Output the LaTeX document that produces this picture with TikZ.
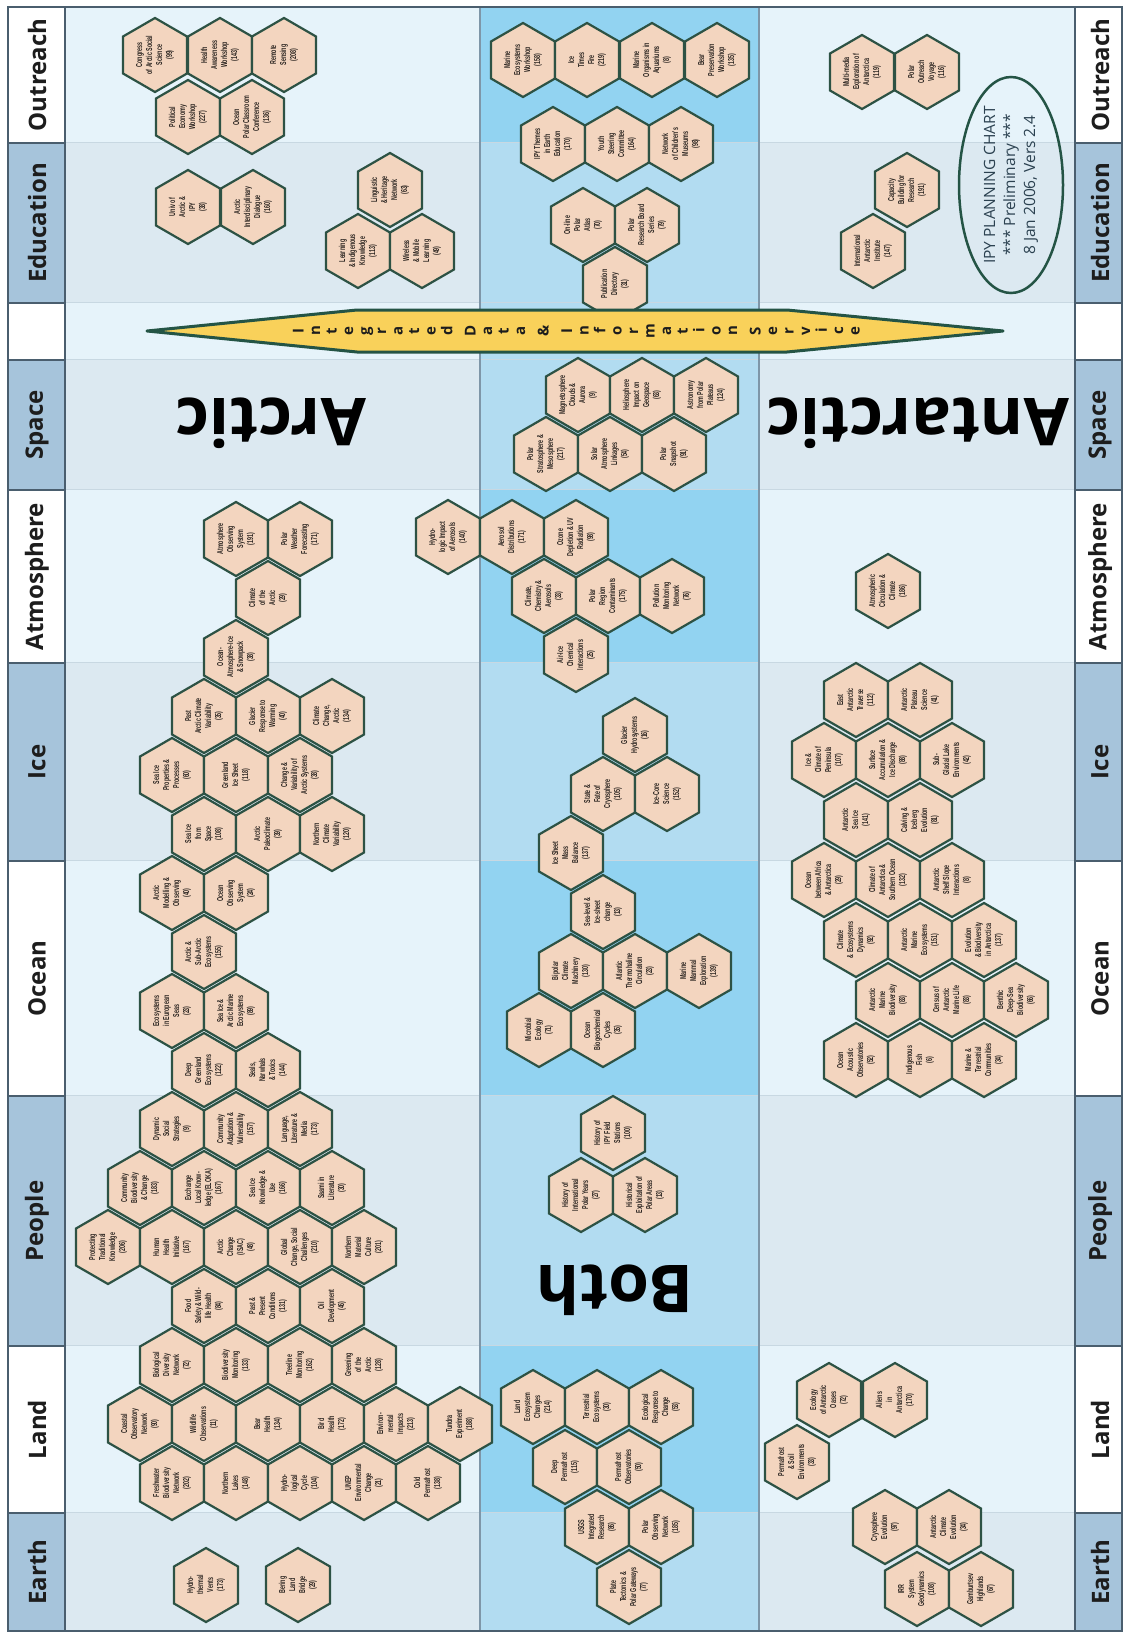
\documentclass[tikz,border=0pt]{standalone}
\usepackage{fontspec}
\usepackage{graphicx}
\setmainfont{Liberation Sans}
\newfontfamily\labfont{Open Sans}
\newfontfamily\hexfont{Liberation Sans}[FakeStretch=0.62]
\definecolor{hexfill}{HTML}{F3D5BF}
\definecolor{hexdraw}{HTML}{2D5244}
\definecolor{hextext}{HTML}{2A2420}
\definecolor{bgA}{HTML}{E6F3FA}
\definecolor{bgB}{HTML}{DCE9F1}
\definecolor{bothA}{HTML}{92D3F1}
\definecolor{bothB}{HTML}{B2DCF1}
\definecolor{labblue}{HTML}{A6C4DB}
\definecolor{labtext}{HTML}{1D1D1D}
\definecolor{frame}{HTML}{4A5E6E}
\definecolor{sep}{HTML}{C8D8E2}
\definecolor{colsep}{HTML}{7E96A8}
\definecolor{idis}{HTML}{F9D15A}
\definecolor{idisedge}{HTML}{245445}
\definecolor{elltext}{HTML}{2B4150}
\newcommand\hx[4]{%
  \path[hexline] (#2,#3-37) -- (#2+32,#3-18.5) -- (#2+32,#3+18.5) -- (#2,#3+37) -- (#2-32,#3+18.5) -- (#2-32,#3-18.5) -- cycle;
  \node[hext] (#1) at (#2,#3) {#4};}
\newcommand\rl[1]{\makebox[16.5pt]{\rotatebox[origin=c]{90}{\vphantom{Ag}#1}}}
\newcommand\rg{\hspace{7pt}}
\tikzset{
  hexline/.style={draw=hexdraw, fill=hexfill, line width=2.2pt, line join=miter},
  hext/.style={rotate=90, align=center, inner sep=0pt, text=hextext, font=\hexfont\bfseries\fontsize{8.6}{10}\selectfont},
  labtxt/.style={rotate=90, font=\labfont\bfseries\fontsize{24}{26}\selectfont, text=labtext, inner sep=0pt},
  bigtxt/.style={rotate=180, font=\labfont\bfseries\fontsize{66}{70}\selectfont, text=black, inner sep=0pt},
  framed/.style={draw=frame, line width=1.5pt},
}
\begin{document}
\begin{tikzpicture}[x=1pt, y=-1pt]
\useasboundingbox (0,0) rectangle (1123,1637);
\fill[white] (0,0) rectangle (1123,1637);
% rows
\foreach \ya/\yb/\lab/\cl/\cc/\cb [count=\i] in {
  7/143/Outreach/white/bgA/bothA,
  143/303/Education/labblue/bgB/bothB,
  303/360/{}/white/bgA/bothB,
  360/490/Space/labblue/bgB/bothB,
  490/663/Atmosphere/white/bgA/bothA,
  663/861/Ice/labblue/bgB/bothB,
  861/1096/Ocean/white/bgA/bothA,
  1096/1346/People/labblue/bgB/bothB,
  1346/1513/Land/white/bgA/bothA,
  1513/1631/Earth/labblue/bgB/bothB}{
  \fill[\cc] (65,\ya) rectangle (1075,\yb);
  \fill[\cb] (480,\ya) rectangle (759,\yb);
  \draw[sep, line width=1.2pt] (65,\yb) -- (1075,\yb);
  \path[framed, fill=\cl] (8,\ya) rectangle (65,\yb);
  \path[framed, fill=\cl] (1075,\ya) rectangle (1122,\yb);
  \node[labtxt] (L\i) at (37,{(\ya+\yb)/2}) {\lab};
  \node[labtxt] (R\i) at (1100,{(\ya+\yb)/2}) {\lab};
}
\draw[colsep, line width=1.2pt] (480,7) -- (480,1631);
\draw[colsep, line width=1.2pt] (759,7) -- (759,1631);
\draw[framed] (8,7) rectangle (1122,1631);
% ---------------- Arctic ----------------
\hx{h1}{155}{55}{Congress\\of Arctic Social\\Science\\(99)}
\hx{h2}{220}{55}{Health\\Awareness\\Workshop\\(143)}
\hx{h3}{284}{55}{Remote\\Sensing\\(208)}
\hx{h4}{188}{117}{Political\\Economy\\Workshop\\(227)}
\hx{h5}{252}{117}{Ocean\\Polar Classroom\\Conference\\(136)}
\hx{h6}{188}{207}{Univ of\\Arctic \&\\IPY\\(38)}
\hx{h7}{253}{207}{Arctic\\Interdisciplinary\\Dialogue\\(160)}
\hx{h8}{390}{190}{Linguistic\\\& Heritage\\Network\\(63)}
\hx{h9}{358}{251}{Learning\\\& Indigenous\\Knowledge\\(113)}
\hx{h10}{422}{251}{Wireless\\\& Mobile\\Learning\\(49)}
\hx{h11}{236}{539}{Atmosphere\\Observing\\System\\(191)}
\hx{h12}{300}{539}{Polar\\Weather\\Forecasting\\(171)}
\hx{h13}{268}{598}{Climate\\of the\\Arctic\\(29)}
\hx{h14}{236}{657}{Ocean-\\Atmosphere-Ice\\\& Snowpack\\(38)}
\hx{h15}{204}{716}{Past\\Arctic Climate\\Variability\\(35)}
\hx{h16}{268}{716}{Glacier\\Response to\\Warming\\(40)}
\hx{h17}{332}{716}{Climate\\Change,\\Arctic\\(134)}
\hx{h18}{172}{775}{Sea Ice\\Properties \&\\Processes\\(60)}
\hx{h19}{236}{775}{Greenland\\Ice Sheet\\(118)}
\hx{h20}{300}{775}{Change \&\\Variability of\\Arctic Systems\\(38)}
\hx{h21}{204}{834}{Sea Ice\\from\\Space\\(108)}
\hx{h22}{268}{834}{Arctic\\Paleoclimate\\(39)}
\hx{h23}{332}{834}{Northern\\Climate\\Variability\\(120)}
\hx{h24}{172}{893}{Arctic\\Modelling \&\\Observing\\(40)}
\hx{h25}{236}{893}{Ocean\\Observing\\System\\(24)}
\hx{h26}{204}{952}{Arctic \&\\Sub-Arctic\\Ecosystems\\(155)}
\hx{h27}{172}{1011}{Ecosystems\\in European\\Seas\\(23)}
\hx{h28}{236}{1011}{Sea Ice \&\\Arctic Marine\\Ecosystems\\(89)}
\hx{h29}{204}{1070}{Deep\\Greenland\\Ecosystems\\(122)}
\hx{h30}{268}{1070}{Seals,\\Narwhals\\\& Toxics\\(144)}
\hx{h31}{172}{1129}{Dynamic\\Social\\Strategies\\(9)}
\hx{h32}{236}{1129}{Community\\Adaptation \&\\Vulnerability\\(157)}
\hx{h33}{300}{1129}{Language,\\Literature \&\\Media\\(173)}
\hx{h34}{140}{1188}{Community\\Biodiversity\\\& Change\\(183)}
\hx{h35}{204}{1188}{Exchange\\Local Know-\\ledge (ELOKA)\\(167)}
\hx{h36}{268}{1188}{Sea Ice\\Knowledge \&\\Use\\(166)}
\hx{h37}{332}{1188}{Saami in\\Literature\\(30)}
\hx{h38}{108}{1247}{Protecting\\Traditional\\Knowledge\\(206)}
\hx{h39}{172}{1247}{Human\\Health\\Initiative\\(167)}
\hx{h40}{236}{1247}{Arctic\\Change\\(ISAC)\\(48)}
\hx{h41}{300}{1247}{Global\\Change, Social\\Challenges\\(210)}
\hx{h42}{364}{1247}{Northern\\Material\\Culture\\(201)}
\hx{h43}{204}{1306}{Food\\Safety \& Wild-\\life Health\\(84)}
\hx{h44}{268}{1306}{Past \&\\Present\\Conditions\\(131)}
\hx{h45}{332}{1306}{Oil\\Development\\(46)}
\hx{h46}{172}{1365}{Biological\\Diversity\\Network\\(72)}
\hx{h47}{236}{1365}{Biodiversity\\Monitoring\\(133)}
\hx{h48}{300}{1365}{Treeline\\Monitoring\\(162)}
\hx{h49}{364}{1365}{Greening\\of the\\Arctic\\(128)}
\hx{h50}{140}{1424}{Coastal\\Observatory\\Network\\(90)}
\hx{h51}{204}{1424}{Wildlife\\Observations\\(11)}
\hx{h52}{268}{1424}{Bear\\Health\\(134)}
\hx{h53}{332}{1424}{Bird\\Health\\(172)}
\hx{h54}{396}{1424}{Environ-\\mental\\Impacts\\(213)}
\hx{h55}{460}{1424}{Tundra\\Experiment\\(188)}
\hx{h56}{172}{1483}{Freshwater\\Biodiversity\\Network\\(202)}
\hx{h57}{236}{1483}{Northern\\Lakes\\(148)}
\hx{h58}{300}{1483}{Hydro-\\logical\\Cycle\\(104)}
\hx{h59}{364}{1483}{UNEP\\Environmental\\Change\\(21)}
\hx{h60}{428}{1483}{Cold\\Permafrost\\(138)}
\hx{h61}{206}{1585}{Hydro-\\thermal\\Vents\\(173)}
\hx{h62}{298}{1585}{Bering\\Land\\Bridge\\(29)}
% ---------------- Both ----------------
\hx{h63}{523}{60}{Marine\\Ecosystems\\Workshop\\(158)}
\hx{h64}{587}{60}{Ice\\Times\\Fire\\(219)}
\hx{h65}{652}{60}{Marine\\Organisms in\\Aquariums\\(8)}
\hx{h66}{717}{60}{Bear\\Preservation\\Workshop\\(135)}
\hx{h67}{553}{144}{IPY Themes\\in Earth\\Education\\(170)}
\hx{h68}{617}{144}{Youth\\Steering\\Committee\\(164)}
\hx{h69}{681}{144}{Network\\of Children's\\Museums\\(98)}
\hx{h70}{583}{225}{On-line\\Polar\\Atlas\\(70)}
\hx{h71}{647}{225}{Polar\\Research Board\\Series\\(79)}
\hx{h72}{615}{284}{Publication\\Directory\\(31)}
\hx{h73}{578}{395}{Magnetosphere\\Clouds \&\\Aurora\\(9)}
\hx{h74}{642}{395}{Heliosphere\\Impact on\\Geospace\\(63)}
\hx{h75}{706}{395}{Astronomy\\from Polar\\Plateaus\\(124)}
\hx{h76}{546}{454}{Polar\\Stratosphere \&\\Mesosphere\\(217)}
\hx{h77}{610}{454}{Solar\\Atmosphere\\Linkages\\(54)}
\hx{h78}{674}{454}{Polar\\Snapshot\\(91)}
\hx{h79}{448}{537}{Hydro-\\logic Impact\\of Aerosols\\(140)}
\hx{h80}{512}{537}{Aerosol\\Distributions\\(171)}
\hx{h81}{576}{537}{Ozone\\Depletion \& UV\\Radiation\\(98)}
\hx{h82}{544}{596}{Climate,\\Chemistry \&\\Aerosols\\(33)}
\hx{h83}{608}{596}{Polar\\Region\\Contaminants\\(175)}
\hx{h84}{672}{596}{Pollution\\Monitoring\\Network\\(76)}
\hx{h85}{576}{655}{Air-Ice\\Chemical\\Interactions\\(25)}
\hx{h86}{635}{735}{Glacier\\Hydrosystems\\(16)}
\hx{h87}{603}{794}{State \&\\Fate of\\Cryosphere\\(105)}
\hx{h88}{667}{794}{Ice-Core\\Science\\(152)}
\hx{h89}{571}{853}{Ice Sheet\\Mass\\Balance\\(137)}
\hx{h90}{603}{912}{Sea-level \&\\Ice-sheet\\change\\(13)}
\hx{h91}{571}{971}{Bipolar\\Climate\\Machinery\\(130)}
\hx{h92}{635}{971}{Atlantic\\Thermohaline\\Circulation\\(23)}
\hx{h93}{699}{971}{Marine\\Mammal\\Exploration\\(139)}
\hx{h94}{539}{1030}{Microbial\\Ecology\\(71)}
\hx{h95}{603}{1030}{Ocean\\Biogeochemical\\Cycles\\(35)}
\hx{h96}{613}{1133}{History of\\IPY Field\\Stations\\(100)}
\hx{h97}{581}{1195}{History of\\International\\Polar Years\\(27)}
\hx{h98}{645}{1195}{Historical\\Exploitation of\\Polar Areas\\(13)}
\hx{h99}{533}{1407}{Land\\Ecosystem\\Changes\\(214)}
\hx{h100}{597}{1407}{Terrestrial\\Ecosystems\\(30)}
\hx{h101}{661}{1407}{Ecological\\Response to\\Change\\(53)}
\hx{h102}{565}{1467}{Deep\\Permafrost\\(115)}
\hx{h103}{629}{1467}{Permafrost\\Observatories\\(50)}
\hx{h104}{597}{1527}{USGS\\Integrated\\Research\\(86)}
\hx{h105}{661}{1527}{Polar\\Observing\\Network\\(185)}
\hx{h106}{629}{1587}{Plate\\Tectonics \&\\Polar Gateways\\(77)}
% ---------------- Antarctic ----------------
\hx{h107}{862}{72}{Multi-media\\Exploration of\\Antarctica\\(119)}
\hx{h108}{927}{72}{Polar\\Outreach\\Voyage\\(116)}
\hx{h109}{907}{190}{Capacity\\Building for\\Research\\(191)}
\hx{h110}{873}{251}{International\\Antarctic\\Institute\\(147)}
\hx{h111}{888}{591}{Atmospheric\\Circulation \&\\Climate\\(186)}
\hx{h112}{856}{700}{East\\Antarctic\\Traverse\\(112)}
\hx{h113}{920}{700}{Antarctic\\Plateau\\Science\\(41)}
\hx{h114}{824}{760}{Ice \&\\Climate of\\Peninsula\\(107)}
\hx{h115}{888}{760}{Surface\\Accumulation \&\\Ice Discharge\\(88)}
\hx{h116}{952}{760}{Sub-\\Glacial Lake\\Environments\\(42)}
\hx{h117}{856}{820}{Antarctic\\Sea Ice\\(141)}
\hx{h118}{920}{820}{Calving \&\\Iceberg\\Evolution\\(81)}
\hx{h119}{824}{880}{Ocean\\between Africa\\\& Antarctica\\(29)}
\hx{h120}{888}{880}{Climate of\\Antarctica \&\\Southern Ocean\\(132)}
\hx{h121}{952}{880}{Antarctic\\Shelf Slope\\Interactions\\(8)}
\hx{h122}{856}{940}{Climate\\\& Ecosystems\\Dynamics\\(92)}
\hx{h123}{920}{940}{Antarctic\\Marine\\Ecosystems\\(151)}
\hx{h124}{984}{940}{Evolution\\\& Biodiversity\\in Antarctica\\(137)}
\hx{h125}{888}{1000}{Antarctic\\Marine\\Biodiversity\\(83)}
\hx{h126}{952}{1000}{Census of\\Antarctic\\Marine Life\\(83)}
\hx{h127}{1016}{1000}{Benthic\\Deep-Sea\\Biodiversity\\(66)}
\hx{h128}{856}{1060}{Ocean\\Acoustic\\Observatories\\(52)}
\hx{h129}{920}{1060}{Indigenous\\Fish\\(6)}
\hx{h130}{984}{1060}{Marine \&\\Terrestrial\\Communities\\(34)}
\hx{h131}{829}{1400}{Ecology\\of Antarctic\\Oases\\(72)}
\hx{h132}{895}{1400}{Aliens\\in\\Antarctica\\(170)}
\hx{h133}{797}{1462}{Permafrost\\\& Soil\\Environments\\(33)}
\hx{h134}{885}{1527}{Cryosphere\\Evolution\\(97)}
\hx{h135}{949}{1527}{Antarctic\\Climate\\Evolution\\(34)}
\hx{h136}{917}{1589}{IRR\\System\\Geodynamics\\(108)}
\hx{h137}{981}{1589}{Gamburtsev\\Highlands\\(67)}
% ---------------- IDIS arrow ----------------
\path[draw=idisedge, fill=idis, line width=3pt, line join=round]
  (147,331) -- (357,310) -- (787,310) -- (1003,331) -- (787,352) -- (357,352) -- cycle;
\node[inner sep=0pt, text=labtext, font=\labfont\bfseries\fontsize{15}{17}\selectfont] (idis) at (578,331)
  {\rl{I}\rl{n}\rl{t}\rl{e}\rl{g}\rl{r}\rl{a}\rl{t}\rl{e}\rl{d}\rg\rl{D}\rl{a}\rl{t}\rl{a}\rg\rl{\&}\rg\rl{I}\rl{n}\rl{f}\rl{o}\rl{r}\rl{m}\rl{a}\rl{t}\rl{i}\rl{o}\rl{n}\rg\rl{S}\rl{e}\rl{r}\rl{v}\rl{i}\rl{c}\rl{e}};
% ---------------- big titles ----------------
\node[bigtxt] (arctic) at (271,423) {Arctic};
\node[bigtxt] (antarctic) at (918,423) {Antarctic};
\node[bigtxt] (both) at (615,1290) {Both};
% ---------------- chart ellipse ----------------
\draw[idisedge, line width=2.5pt] (1011,185) ellipse [x radius=52, y radius=108];
\node[rotate=90, align=center, inner sep=0pt, text=elltext, font=\labfont\fontsize{15.5}{20}\selectfont] (chart) at (1011,185)
  {IPY PLANNING CHART\\*** Preliminary ***\\8 Jan 2006, Vers 2.4};
\end{tikzpicture}
\end{document}
